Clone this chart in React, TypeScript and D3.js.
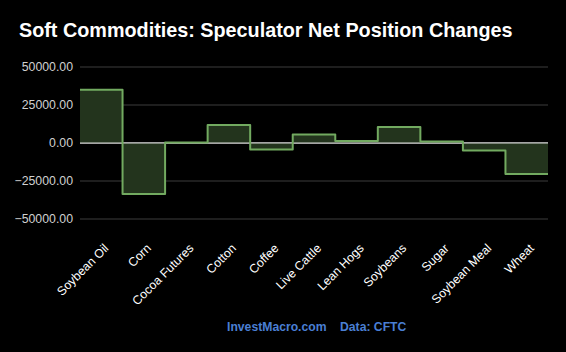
import React, { useEffect, useRef } from "react";
import * as d3 from "d3";

const categories = [
  "Soybean Oil", "Corn", "Cocoa Futures", "Cotton", "Coffee", "Live Cattle",
  "Lean Hogs", "Soybeans", "Sugar", "Soybean Meal", "Wheat",
];
const netChanges = [35000, -33500, 300, 11800, -4300, 5600, 1300, 10500, 1000, -5000, -20400];
const yTicks = [50000, 25000, 0, -25000, -50000];

const W = 566;
const H = 352;
const margin = { top: 67, right: 18, bottom: 133, left: 80 };

export default function App() {
  const ref = useRef<SVGSVGElement>(null);

  useEffect(() => {
    const svg = d3.select(ref.current);
    svg.selectAll("*").remove();

    const x = d3.scaleBand<string>()
      .domain(categories)
      .range([margin.left, W - margin.right])
      .padding(0);
    const y = d3.scaleLinear()
      .domain([-50000, 50000])
      .range([H - margin.bottom, margin.top]);

    svg.append("rect").attr("width", W).attr("height", H).attr("fill", "#000");

    svg.append("text")
      .attr("x", 19).attr("y", 37)
      .attr("fill", "#fff")
      .style("font", "bold 19.8px 'Liberation Sans', Arial, sans-serif")
      .text("Soft Commodities: Speculator Net Position Changes");

    // grid + y labels
    const grid = svg.append("g");
    grid.selectAll("line")
      .data(yTicks)
      .enter().append("line")
      .attr("x1", margin.left).attr("x2", W - margin.right)
      .attr("y1", d => y(d)).attr("y2", d => y(d))
      .attr("stroke", d => (d === 0 ? "#dcdcdc" : "#3c3c3c"))
      .attr("stroke-width", 1);
    grid.selectAll("text")
      .data(yTicks)
      .enter().append("text")
      .attr("x", margin.left - 7)
      .attr("y", d => y(d))
      .attr("dy", "0.35em")
      .attr("text-anchor", "end")
      .attr("fill", "#d0d0d0")
      .style("font", "12.3px 'Liberation Sans', Arial, sans-serif")
      .text(d => d3.format(".2f")(d));

    // step series: one point per band start, plus the end
    const pts: [number, number][] = categories.map((c, i) => [x(c)!, netChanges[i]]);
    pts.push([W - margin.right, netChanges[netChanges.length - 1]]);

    const area = d3.area<[number, number]>()
      .x(d => d[0]).y0(y(0)).y1(d => y(d[1]))
      .curve(d3.curveStepAfter);
    const line = d3.line<[number, number]>()
      .x(d => d[0]).y(d => y(d[1]))
      .curve(d3.curveStepAfter);

    svg.append("path").attr("d", area(pts)).attr("fill", "#23341d");
    svg.append("line")
      .attr("x1", margin.left).attr("x2", W - margin.right)
      .attr("y1", y(0)).attr("y2", y(0))
      .attr("stroke", "#dcdcdc");
    svg.append("path")
      .attr("d", line(pts))
      .attr("fill", "none")
      .attr("stroke", "#72aa60")
      .attr("stroke-width", 2)
      .attr("stroke-linejoin", "round");

    // category labels
    svg.append("g").selectAll("text")
      .data(categories)
      .enter().append("text")
      .attr("transform", d => `translate(${x(d)! + x.bandwidth() / 2 + 8},${H - margin.bottom + 30}) rotate(-45)`)
      .attr("text-anchor", "end")
      .attr("fill", "#fff")
      .style("font", "12.3px 'Liberation Sans', Arial, sans-serif")
      .text(d => d);

    // footer
    const foot = svg.append("g").style("font", "bold 12.2px 'Liberation Sans', Arial, sans-serif");
    foot.append("text").attr("x", 227).attr("y", 331).attr("fill", "#4a7fd4").text("InvestMacro.com");
    foot.append("text").attr("x", 340).attr("y", 331).attr("fill", "#4a7fd4").text("Data: CFTC");
  }, []);

  return (
    <svg ref={ref} width={W} height={H}
      style={{ position: "absolute", left: 0, top: 0, display: "block" }} />
  );
}
